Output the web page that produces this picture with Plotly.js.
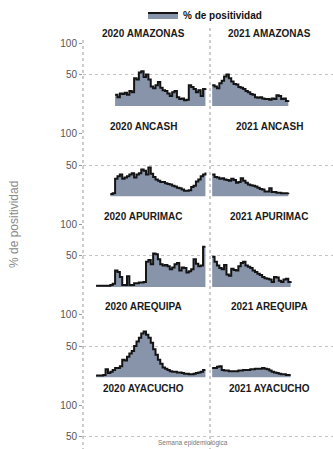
<!DOCTYPE html>
<html>
<head>
<meta charset="utf-8">
<script src="https://cdn.plot.ly/plotly-3.0.1.min.js"></script>
<style>html,body{margin:0;padding:0;background:#fff;}#chart{width:333px;height:449px;}</style>
</head>
<body>
<div id="chart"></div>
<script>
// ---- data ----
const regions = ['AMAZONAS', 'ANCASH', 'APURIMAC', 'AREQUIPA', 'AYACUCHO'];
const years = ['2020', '2021'];
const yTickVals = [50, 100];
const yTickText = ['50', '100'];
const seriesName = '% de positividad';
const yTitle = '% de positividad';
const xTitle = 'Semana epidemiológica';

// first epidemiological week of each series
const start2020 = [14, 12, 6, 6, 1];
const start2021 = [1, 1, 1, 1, 1];

const amazonas2020 = [18,14,20,19,21,18,24,22,44,42,53,55,46,50,42,31,28,33,38,29,25,24,20,16,22,24,14,11,12,9,10,33,30,27,22,25,16,27,28];
const amazonas2021 = [33,31,28,36,40,47,50,44,39,35,34,30,29,27,24,22,19,18,14,13,14,12,11,11,10,12,11,17,16,11,12,8,9];
const ancash2020 = [4,5,28,32,35,28,30,32,35,37,30,35,37,43,41,35,46,36,31,27,25,23,23,21,20,19,17,16,14,13,11,9,9,10,15,17,24,27,32,35,38];
const ancash2021 = [35,31,30,28,29,27,26,25,28,26,22,23,29,25,22,19,18,17,16,14,12,11,8,8,13,7,7,6,6,5,5,5,6];
const apurimac2020 = [2,2,2,2,2,2,3,5,26,24,16,3,3,17,3,3,6,6,7,7,8,40,43,36,53,52,44,36,34,35,33,28,31,36,38,26,31,30,23,25,28,44,37,33,34,64,64];
const apurimac2021 = [48,40,34,30,28,35,20,18,29,27,26,33,38,40,34,32,30,26,24,21,19,16,14,13,12,8,16,15,10,8,12,13,8,9];
const arequipa2020 = [3,3,3,4,13,7,9,12,15,15,18,28,27,33,38,42,50,57,63,70,73,68,63,55,45,36,28,22,16,14,12,10,9,9,8,8,7,6,6,5,5,6,7,8,9,12,12];
const arequipa2021 = [15,15,17,18,12,11,11,10,10,10,10,11,11,12,12,12,13,13,14,14,14,15,14,13,11,9,8,7,6,5,5,4,4,4];
// AYACUCHO values fall below the cropped part of the picture and cannot be read
const ayacucho2020 = [];
const ayacucho2021 = [];

const data2020 = [amazonas2020, ancash2020, apurimac2020, arequipa2020, ayacucho2020];
const data2021 = [amazonas2021, ancash2021, apurimac2021, arequipa2021, ayacucho2021];

// ---- layout helpers (pixels) ----
const W = 333, H = 449;
const px = v => v / W;
const py = v => (H - v) / H;
const colX = [[83, 209], [211, 333]];
const colRange = [[0.5, 53.5], [0.5, 51.8]];
const rowTop = [43, 133.5, 224, 314.5, 405];
const panelH = 63;
const titleY = [33, 126, 217, 306, 389];

const FONT = 'Liberation Sans, Arial, sans-serif';
const traces = [];
const layout = {
  width: W, height: H,
  margin: {l: 0, r: 0, t: 0, b: 0},
  paper_bgcolor: '#fff', plot_bgcolor: 'rgba(0,0,0,0)',
  showlegend: true,
  legend: {
    orientation: 'h', x: px(143), y: py(15), xanchor: 'left', yanchor: 'middle',
    font: {family: FONT, size: 10, color: '#111', weight: 'bold'},
    bgcolor: 'rgba(0,0,0,0)', itemwidth: 30, tracegroupgap: 0
  },
  annotations: [], shapes: []
};

function weeks(start, n) { const w = []; for (let i = 0; i < n; i++) w.push(start + i); return w; }

for (let r = 0; r < regions.length; r++) {
  const top = rowTop[r];
  const bot = top + panelH;
  const botClamped = Math.min(bot, H);
  const yLow = (bot - botClamped) / panelH * 100;
  for (let c = 0; c < 2; c++) {
    const k = r * 2 + c + 1;
    const xa = 'xaxis' + (k === 1 ? '' : k);
    const ya = 'yaxis' + (k === 1 ? '' : k);
    layout[xa] = {
      domain: [px(colX[c][0]), px(colX[c][1])], range: colRange[c],
      anchor: 'y' + k, showticklabels: false, showgrid: false, zeroline: false,
      ticks: '', showline: false, fixedrange: true
    };
    layout[ya] = {
      domain: [py(botClamped), py(top)], range: [yLow, 100],
      anchor: 'x' + k, tickvals: yTickVals, ticktext: yTickText,
      showticklabels: c === 0, ticks: c === 0 ? 'outside' : '', ticklen: 3, tickcolor: '#999',
      tickfont: {family: FONT, size: 10, color: '#555'},
      showgrid: true, gridcolor: '#c4c4c4', griddash: 'dot', gridwidth: 1,
      zeroline: false, showline: false, fixedrange: true
    };
    layout.annotations.push({
      xref: 'paper', yref: 'paper', x: px((colX[c][0] + colX[c][1]) / 2 - 3), y: py(titleY[r]),
      text: years[c] + ' ' + regions[r], showarrow: false, xanchor: 'center', yanchor: 'middle',
      font: {family: FONT, size: 10, color: '#1a1a1a', weight: 'bold'}
    });
    const src = c === 0 ? data2020 : data2021;
    const starts = c === 0 ? start2020 : start2021;
    const vals = src[r];
    traces.push({
      type: 'scatter', mode: 'lines',
      x: vals.length ? weeks(starts[r], vals.length) : [null],
      y: vals.length ? vals : [null],
      xaxis: 'x' + k, yaxis: 'y' + k,
      line: {shape: 'hv', color: '#141414', width: 2},
      fill: 'tozeroy', fillcolor: '#8894a9',
      name: seriesName, showlegend: traces.length === 0, hoverinfo: 'skip'
    });
  }
}

// dotted left axis line and column divider
layout.shapes.push({type: 'line', xref: 'paper', yref: 'paper', x0: px(83), x1: px(83), y0: py(40), y1: 0,
  line: {color: '#9a9a9a', width: 1, dash: 'dot'}});
layout.shapes.push({type: 'line', xref: 'paper', yref: 'paper', x0: px(210), x1: px(210), y0: py(28), y1: 0,
  line: {color: '#9a9a9a', width: 1, dash: 'dot'}});

layout.annotations.push({
  xref: 'paper', yref: 'paper', x: px(14), y: py(225), text: yTitle, textangle: -90,
  showarrow: false, xanchor: 'center', yanchor: 'middle',
  font: {family: FONT, size: 12, color: '#8a8a8a'}
});
layout.annotations.push({
  xref: 'paper', yref: 'paper', x: px(193), y: py(443), text: xTitle,
  showarrow: false, xanchor: 'center', yanchor: 'middle',
  font: {family: FONT, size: 6.5, color: '#777'}
});

Plotly.newPlot('chart', traces, layout, {displayModeBar: false, staticPlot: true});
</script>
</body>
</html>
